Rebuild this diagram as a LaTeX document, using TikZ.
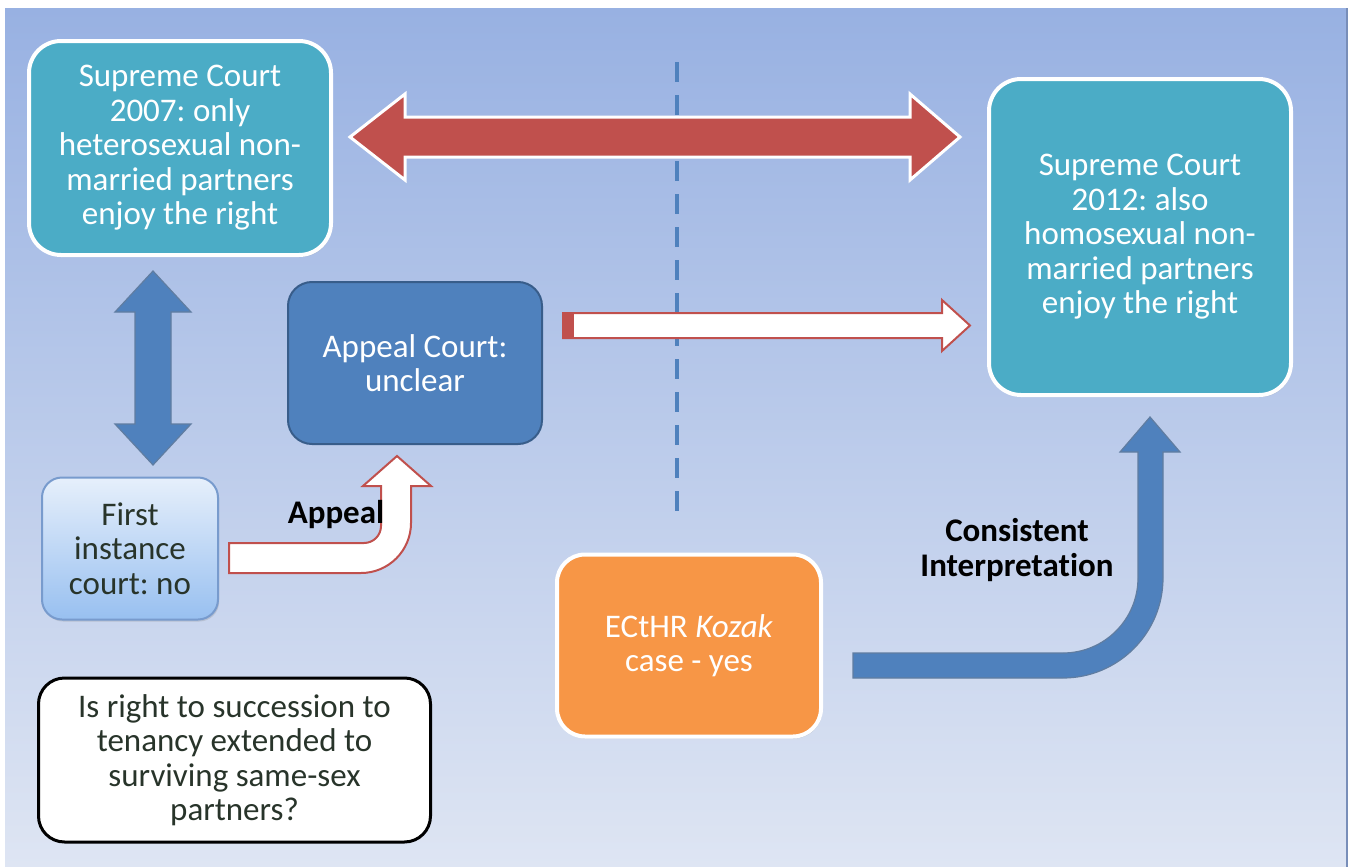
\documentclass[tikz,border=0pt]{standalone}
\usepackage{fontspec}
\setmainfont{Carlito}[Ligatures=NoCommon]
\frenchspacing
\usetikzlibrary{shadows}
\definecolor{bgtop}{RGB}{152,177,226}
\definecolor{bgbottom}{RGB}{222,229,243}
\definecolor{bgedge}{RGB}{120,142,185}
\definecolor{courtteal}{RGB}{75,172,198}
\definecolor{appealblue}{RGB}{79,129,189}
\definecolor{appealedge}{RGB}{56,93,138}
\definecolor{arrowred}{RGB}{192,80,77}
\definecolor{echrorange}{RGB}{247,150,70}
\definecolor{firsttop}{RGB}{230,239,251}
\definecolor{firstbottom}{RGB}{152,192,240}
\definecolor{firstedge}{RGB}{120,155,205}
\definecolor{darktext}{RGB}{40,52,42}
\begin{document}
\begin{tikzpicture}[
    x=0.5pt, y=-0.5pt,
    every node/.style={align=center, inner sep=0pt, font=\fontsize{16.5}{17.25}\selectfont},
    boxshadow/.style={drop shadow={shadow xshift=0.6pt, shadow yshift=-1pt, opacity=0.25}},
    supreme/.style={boxshadow, draw=white, line width=2pt, fill=courtteal, text=white, rounded corners=16pt, minimum width=151pt},
    appealbox/.style={draw=appealedge, line width=1pt, fill=appealblue, text=white, rounded corners=12pt},
    firstbox/.style={boxshadow, draw=firstedge, line width=1pt, top color=firsttop, bottom color=firstbottom, text=darktext, rounded corners=10pt},
    echrbox/.style={boxshadow, draw=white, line width=2pt, fill=echrorange, text=white, rounded corners=14pt},
    questionbox/.style={draw=black, line width=1.5pt, fill=white, text=darktext, rounded corners=13pt},
    blockred/.style={fill=arrowred, draw=white, line width=1.5pt, line join=miter},
    blockwhite/.style={fill=white, draw=arrowred, line width=1pt},
    blockblue/.style={fill=appealblue, draw=appealedge!80, line width=0.6pt},
    arrowtext/.style={font=\fontsize{16.5}{17.25}\selectfont\bfseries, text=black}
]
\useasboundingbox (0,0) rectangle (1356,867);
\shade[top color=bgtop, bottom color=bgbottom] (5,8) rectangle (1347,867);
\draw[bgedge, line width=1pt] (1347,8) -- (1347,867);
\draw[appealblue, line width=2pt, dash pattern=on 10pt off 6.5pt] (677,62) -- (677,524);

\node[supreme, minimum height=107pt] (sc07) at (180,148) {Supreme Court\\2007: only\\heterosexual non-\\married partners\\enjoy the right};
\node[supreme, minimum height=158pt] (sc12) at (1140,237) {Supreme Court\\2012: also\\homosexual non-\\married partners\\enjoy the right};
\node[appealbox, minimum width=127pt, minimum height=81pt] (appeal) at (415,363) {Appeal Court:\\unclear};
\node[firstbox, minimum width=88pt, minimum height=71pt] (first) at (130,548.5) {First\\instance\\court: no};
\node[echrbox, minimum width=132pt, minimum height=91pt] (echr) at (689,645.5) {ECtHR \textit{Kozak}\\case - yes};
\node[questionbox, minimum width=196pt, minimum height=82pt] (question) at (234.5,760) {Is right to succession to\\tenancy extended to\\surviving same-sex\\partners?};

\draw[blockred] (350,137) -- (405,94) -- (405,117) -- (910,117) -- (910,94) -- (960,137)
    -- (910,180) -- (910,157) -- (405,157) -- (405,180) -- cycle;
\draw[blockblue] (153,271) -- (191,312) -- (171,312) -- (171,424) -- (191,424) -- (153,465)
    -- (115,424) -- (135,424) -- (135,312) -- (115,312) -- cycle;
\draw[blockwhite] (563,313) -- (942,313) -- (942,300) -- (970,325.5) -- (942,351) -- (942,338)
    -- (563,338) -- cycle;
\fill[arrowred] (563,313) rectangle (574,338);
\draw[blockwhite] (229,543) -- (364,543) .. controls (373.4,543) and (381,535.4) .. (381,526)
    -- (381,486) -- (363,486) -- (397,456) -- (431,486) -- (411,486) -- (411,523)
    .. controls (411,550.6) and (388.6,573) .. (361,573) -- (229,573) -- cycle;
\draw[blockblue] (853,653) -- (1063,653) .. controls (1104.4,653) and (1138,619.4) .. (1138,578)
    -- (1138,452) -- (1120,452) -- (1150,417) -- (1180,452) -- (1163,452) -- (1163,578)
    .. controls (1163,633.2) and (1118.2,678) .. (1063,678) -- (853,678) -- cycle;

\node[arrowtext] (appeallabel) at (336,515) {Appeal};
\node[arrowtext] (consistentlabel) at (1017,550) {Consistent\\Interpretation};
\end{tikzpicture}
\end{document}
